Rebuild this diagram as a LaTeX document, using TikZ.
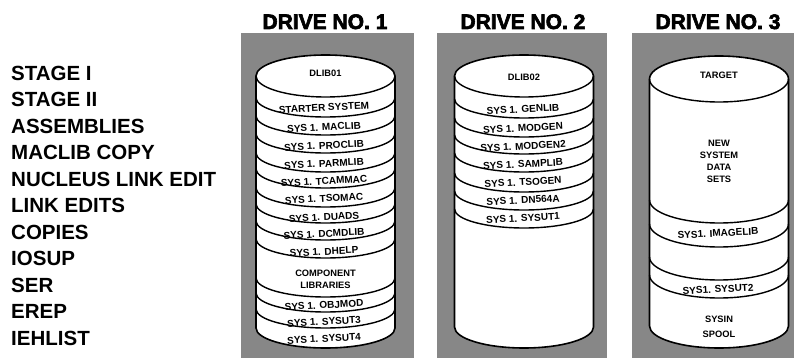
\documentclass[tikz,border=0pt]{standalone}
\usepackage{fontspec}
\setmainfont{Liberation Sans}
\newfontfamily\hdrfont{Liberation Sans}[BoldFeatures={FakeBold=3}]
\begin{document}
\begin{tikzpicture}[x=1pt,y=-1pt,
  shadebox/.style={fill=black!47, draw=none},
  cyl/.style={draw=black, line width=1.6pt, fill=white, line join=round},
  sepline/.style={draw=black, line width=1.4pt},
  lbl/.style={font=\bfseries\fontsize{10}{11}\selectfont, inner sep=0pt, text height=7.2pt, text depth=0pt, rotate=3},
  slbl/.style={font=\bfseries\fontsize{9.3}{11}\selectfont, inner sep=0pt, text height=6.7pt, text depth=0pt},
  stage/.style={anchor=west, font=\bfseries\fontsize{20.5}{21}\selectfont, inner sep=0pt, text height=14.7pt, text depth=0pt},
  hdr/.style={font=\hdrfont\bfseries\fontsize{21}{23}\selectfont, inner sep=0pt, text height=15pt, text depth=0pt}]
\useasboundingbox (0,0) rectangle (794,358);
\fill[white] (0,0) rectangle (794,358);

% left column
\foreach \t [count=\i from 0] in {STAGE I,STAGE II,ASSEMBLIES,MACLIB COPY,NUCLEUS LINK EDIT,LINK EDITS,COPIES,IOSUP,SER,EREP,IEHLIST}
  \node[stage] (st\i) at (11,{73+26.5*\i}) {\t};

% headers
\node[hdr] (h1) at (325,21.5) {DRIVE NO. 1};
\node[hdr] (h2) at (523,21.5) {DRIVE NO. 2};
\node[hdr] (h3) at (718,21.5) {DRIVE NO. 3};

% shaded boxes
\fill[shadebox] (241,33) rectangle (414,358);
\fill[shadebox] (437,33) rectangle (607,358);
\fill[shadebox] (632,33) rectangle (794,358);

% ---------- Drive 1 ----------
\path[cyl] (256,76) -- (256,328) arc[start angle=180,end angle=360,x radius=69.5pt,y radius=20pt] -- (395,76) arc[start angle=0,end angle=180,x radius=69.5pt,y radius=21pt] -- cycle;
\draw[sepline] (256,76) arc[start angle=180,end angle=360,x radius=69.5pt,y radius=21pt];
\foreach \c in {98,116,134,153,169,188,204,221,239,278,293,309}
  \draw[sepline] (256,\c) arc[start angle=180,end angle=360,x radius=69.5pt,y radius=19pt];
\node[slbl] (d1a) at (325.5,73) {DLIB01};
\node[lbl] (d1b) at (324,107.5) {STARTER SYSTEM};
\node[lbl] (d1c) at (324,127) {SYS 1. MACLIB};
\node[lbl] (d1d) at (324,145.5) {SYS 1. PROCLIB};
\node[lbl] (d1e) at (324,163.5) {SYS 1. PARMLIB};
\node[lbl] (d1f) at (324,181) {SYS 1. TCAMMAC};
\node[lbl] (d1g) at (324,198.5) {SYS 1. TSOMAC};
\node[lbl] (d1h) at (324,217) {SYS 1. DUADS};
\node[lbl] (d1i) at (324,233.5) {SYS 1. DCMDLIB};
\node[lbl] (d1j) at (324,251.5) {SYS 1. DHELP};
\node[slbl] (d1k) at (325.5,273.5) {COMPONENT};
\node[slbl] (d1l) at (325.5,285.5) {LIBRARIES};
\node[lbl] (d1m) at (324,305) {SYS 1. OBJMOD};
\node[lbl] (d1n) at (324,321.5) {SYS 1. SYSUT3};
\node[lbl] (d1o) at (324,338.5) {SYS 1. SYSUT4};

% ---------- Drive 2 ----------
\path[cyl] (454.5,76) -- (454.5,327) arc[start angle=180,end angle=360,x radius=69.5pt,y radius=21pt] -- (593.5,76) arc[start angle=0,end angle=180,x radius=69.5pt,y radius=21pt] -- cycle;
\draw[sepline] (454.5,76) arc[start angle=180,end angle=360,x radius=69.5pt,y radius=21pt];
\foreach \c in {99,118,135,153,173,191,209}
  \draw[sepline] (454.5,\c) arc[start angle=180,end angle=360,x radius=69.5pt,y radius=19pt];
\node[slbl] (d2a) at (524,77) {DLIB02};
\node[lbl] (d2b) at (523,109) {SYS 1. GENLIB};
\node[lbl] (d2c) at (523,128) {SYS 1. MODGEN};
\node[lbl] (d2d) at (523,146) {SYS 1. MODGEN2};
\node[lbl] (d2e) at (523,164) {SYS 1. SAMPLIB};
\node[lbl] (d2f) at (523,182) {SYS 1. TSOGEN};
\node[lbl] (d2g) at (523,200) {SYS 1. DN564A};
\node[lbl] (d2h) at (523,218) {SYS 1. SYSUT1};

% ---------- Drive 3 ----------
\path[cyl] (649.5,79) -- (649.5,326) arc[start angle=180,end angle=360,x radius=69.5pt,y radius=22pt] -- (788.5,79) arc[start angle=0,end angle=180,x radius=69.5pt,y radius=23pt] -- cycle;
\draw[sepline] (649.5,79) arc[start angle=180,end angle=360,x radius=69.5pt,y radius=23pt];
\foreach \c in {200,224,257,275}
  \draw[sepline] (649.5,\c) arc[start angle=180,end angle=360,x radius=69.5pt,y radius=23pt];
\node[slbl] (d3a) at (719,75) {TARGET};
\node[slbl] (d3b) at (719,143) {NEW};
\node[slbl] (d3c) at (719,155) {SYSTEM};
\node[slbl] (d3d) at (719,167) {DATA};
\node[slbl] (d3e) at (719,179) {SETS};
\node[lbl] (d3f) at (718,233) {SYS1. IMAGELIB};
\node[lbl] (d3g) at (718,289) {SYS1. SYSUT2};
\node[slbl] (d3h) at (719,319) {SYSIN};
\node[slbl] (d3i) at (719,334) {SPOOL};
\end{tikzpicture}
\end{document}
